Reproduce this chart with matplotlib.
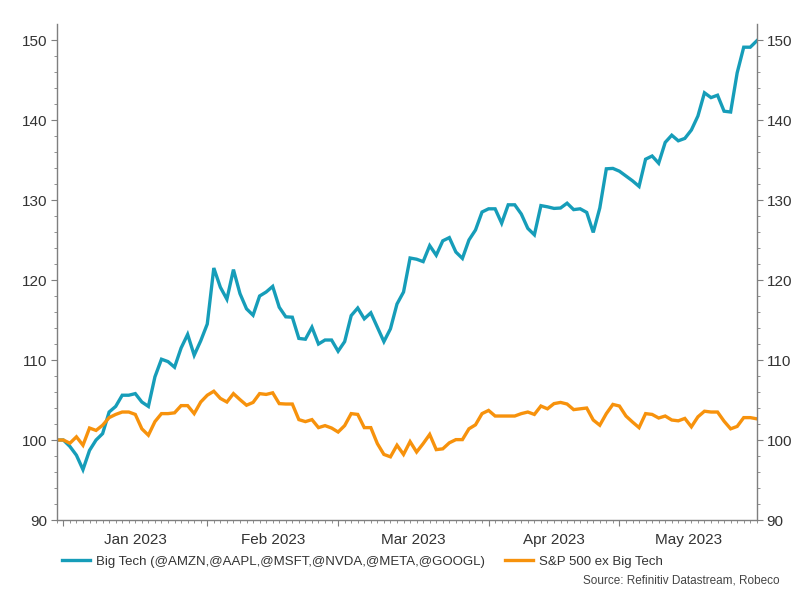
import numpy as np
import pandas as pd
import matplotlib
matplotlib.use("Agg")
import matplotlib.pyplot as plt
import matplotlib.transforms as mtransforms

plt.rcParams['font.family'] = ['Liberation Sans', 'DejaVu Sans']

# weekday series, rebased to 100 at end of 2022
start_date = "2022-12-30"
big_tech = [
    100.0, 100.0, 99.2, 98.1, 96.3, 98.7, 100.0, 100.8, 103.5, 104.2,
    105.6, 105.6, 105.8, 104.75, 104.2, 107.9, 110.1, 109.8, 109.1, 111.5,
    113.2, 110.6, 112.4, 114.5, 121.5, 119.1, 117.6, 121.3, 118.3, 116.4,
    115.6, 118.0, 118.5, 119.2, 116.6, 115.4, 115.35, 112.7, 112.6, 114.1,
    112.0, 112.5, 112.5, 111.1, 112.3, 115.55, 116.5, 115.15, 115.9, 114.1,
    112.3, 113.9, 117.0, 118.5, 122.75, 122.6, 122.3, 124.3, 123.1, 124.9,
    125.3, 123.5, 122.7, 125.0, 126.25, 128.5, 128.9, 128.9, 127.1, 129.4,
    129.4, 128.25, 126.45, 125.65, 129.3, 129.15, 128.95, 129.0, 129.6, 128.8,
    128.9, 128.45, 125.95, 129.0, 133.9, 133.95, 133.6, 133.0, 132.4, 131.7,
    135.1, 135.5, 134.6, 137.2, 138.1, 137.4, 137.7, 138.75, 140.5, 143.4,
    142.8, 143.1, 141.1, 141.0, 145.9, 149.1, 149.1, 149.9,
]
sp500_ex = [
    100.0, 100.0, 99.6, 100.4, 99.35, 101.5, 101.2, 101.85, 102.8, 103.2,
    103.5, 103.5, 103.2, 101.4, 100.6, 102.3, 103.3, 103.3, 103.4, 104.3,
    104.3, 103.3, 104.75, 105.6, 106.1, 105.2, 104.75, 105.8, 105.05, 104.35,
    104.7, 105.8, 105.7, 105.9, 104.55, 104.5, 104.5, 102.55, 102.3, 102.55,
    101.55, 101.8, 101.5, 101.0, 101.8, 103.3, 103.2, 101.55, 101.55, 99.55,
    98.2, 97.9, 99.35, 98.2, 99.8, 98.5, 99.55, 100.7, 98.8, 98.9,
    99.65, 100.05, 100.05, 101.4, 101.9, 103.3, 103.7, 103.0, 103.0, 103.0,
    103.0, 103.3, 103.5, 103.2, 104.25, 103.9, 104.55, 104.7, 104.5, 103.8,
    103.9, 104.0, 102.5, 101.85, 103.3, 104.45, 104.25, 103.0, 102.25, 101.55,
    103.3, 103.2, 102.75, 103.0, 102.5, 102.4, 102.7, 101.65, 102.9, 103.6,
    103.5, 103.5, 102.35, 101.4, 101.7, 102.8, 102.8, 102.65,
]
labels = ["Big Tech (@AMZN,@AAPL,@MSFT,@NVDA,@META,@GOOGL)", "S&P 500 ex Big Tech"]
colors = ["#169db9", "#f7920c"]

dates = pd.bdate_range(start_date, periods=len(big_tech))
x = np.arange(len(dates))

fig = plt.figure(figsize=(8, 6.03), dpi=100)
ax = fig.add_axes([0.071, 0.1376, 0.875, 0.8226])

l1, = ax.plot(x, big_tech, color=colors[0], lw=2.4, solid_joinstyle='miter')
l2, = ax.plot(x, sp500_ex, color=colors[1], lw=2.4, solid_joinstyle='miter')

ax.set_xlim(x[0], x[-1])
ax.set_ylim(90, 152)
ax.set_yticks(np.arange(90, 151, 10))
ax.set_yticks(np.arange(90, 152, 2), minor=True)

# month starts as major ticks, every weekday as minor tick
month_starts = [i for i in range(1, len(dates)) if dates[i].month != dates[i - 1].month]
ax.set_xticks(month_starts)
ax.set_xticklabels([])
ax.set_xticks(x, minor=True)

bounds = month_starts + [x[-1]]
trans = mtransforms.blended_transform_factory(ax.transData, ax.transAxes)
for a, b in zip(bounds[:-1], bounds[1:]):
    ax.annotate(dates[a].strftime("%b %Y"), xy=((a + b) / 2, 0), xycoords=trans,
                xytext=(0, -9), textcoords='offset points', ha='center', va='top',
                fontsize=11, color='#333333')

spine_col = '#7f7f7f'
ax.spines['top'].set_visible(False)
for s in ['left', 'right', 'bottom']:
    ax.spines[s].set_color(spine_col)
    ax.spines[s].set_linewidth(1.0)

ax.tick_params(axis='y', which='both', left=True, right=True, labelleft=True,
               labelright=True, direction='out', colors=spine_col, labelcolor='#333333',
               labelsize=11)
ax.tick_params(axis='y', which='major', length=4, pad=3)
ax.tick_params(axis='y', which='minor', length=2.5)
ax.tick_params(axis='x', which='major', length=4, direction='out', colors=spine_col)
ax.tick_params(axis='x', which='minor', length=2, direction='out', colors=spine_col)

fig.legend([l1, l2], labels, loc='center', bbox_to_anchor=(0.453, 0.068), ncol=2,
           frameon=False, fontsize=9.5, handlelength=2.1, columnspacing=1.5,
           handletextpad=0.5, labelcolor='#333333')

fig.text(0.975, 0.038, "Source: Refinitiv Datastream, Robeco", ha='right', va='center',
         fontsize=8.5, color='#444444')

fig.savefig("out.png", dpi=100)
